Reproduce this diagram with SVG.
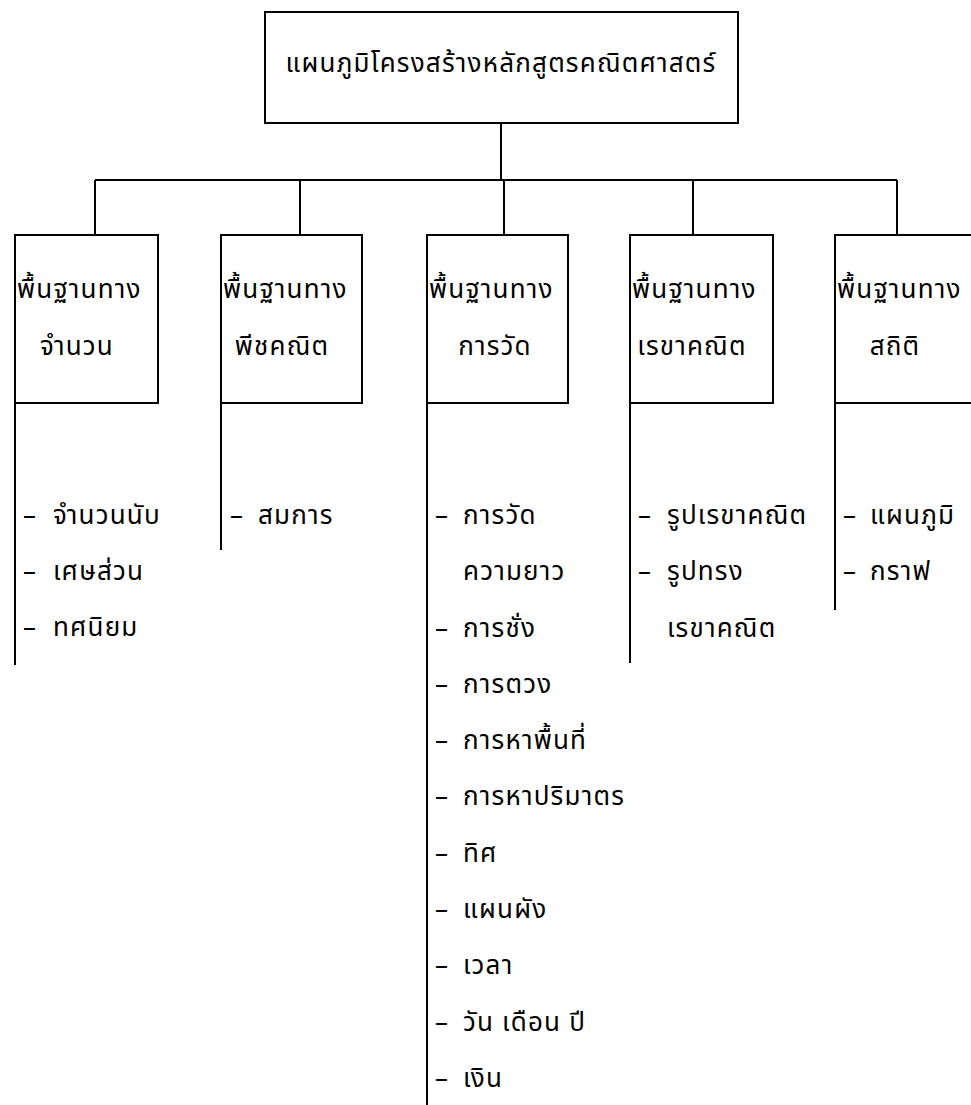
<svg xmlns="http://www.w3.org/2000/svg" width="971" height="1105" viewBox="0 0 971 1105">
<style>
.box{fill:#fff;stroke:#000;stroke-width:2}
.ln{stroke:#000;stroke-width:2;fill:none}
text{font-family:"Noto Sans Thai","Noto Sans","DejaVu Sans",sans-serif;font-size:26px;letter-spacing:1.2px;fill:#000}
.c{text-anchor:middle}
</style>
<rect width="971" height="1105" fill="#fff"/>
<g id="connectors">
<path class="ln" d="M501 123V180M95 180H897M95 180V235M300 180V235M504 180V235M693 180V235M897 180V235"/>
</g>
<g id="title">
<rect class="box" x="265" y="12" width="473" height="111"/>
<text class="c" x="501" y="72">แผนภูมิโครงสร้างหลักสูตรคณิตศาสตร์</text>
</g>
<g id="n1">
<rect class="box" x="15" y="235" width="143" height="168"/>
<path class="ln" d="M15 403V665"/>
<text x="17" y="298">พื้นฐานทาง</text>
<text class="c" x="77" y="355">จำนวน</text>
<text><tspan x="23" y="524">–</tspan><tspan x="53" y="524">จำนวนนับ</tspan></text>
<text><tspan x="23" y="580">–</tspan><tspan x="53" y="580">เศษส่วน</tspan></text>
<text><tspan x="23" y="636">–</tspan><tspan x="53" y="636">ทศนิยม</tspan></text>
</g>
<g id="n2">
<rect class="box" x="221" y="235" width="141" height="168"/>
<path class="ln" d="M221 403V550"/>
<text x="223" y="298">พื้นฐานทาง</text>
<text class="c" x="282" y="355">พีชคณิต</text>
<text><tspan x="230" y="524">–</tspan><tspan x="258" y="524">สมการ</tspan></text>
</g>
<g id="n3">
<rect class="box" x="427" y="235" width="141" height="168"/>
<path class="ln" d="M427 403V1105"/>
<text x="429" y="298">พื้นฐานทาง</text>
<text class="c" x="495" y="355">การวัด</text>
<text><tspan x="435" y="524">–</tspan><tspan x="463" y="524">การวัด</tspan></text>
<text x="463" y="580">ความยาว</text>
<text><tspan x="435" y="637">–</tspan><tspan x="463" y="637">การชั่ง</tspan></text>
<text><tspan x="435" y="693">–</tspan><tspan x="463" y="693">การตวง</tspan></text>
<text><tspan x="435" y="749">–</tspan><tspan x="463" y="749">การหาพื้นที่</tspan></text>
<text><tspan x="435" y="805">–</tspan><tspan x="463" y="805">การหาปริมาตร</tspan></text>
<text><tspan x="435" y="862">–</tspan><tspan x="463" y="862">ทิศ</tspan></text>
<text><tspan x="435" y="918">–</tspan><tspan x="463" y="918">แผนผัง</tspan></text>
<text><tspan x="435" y="974">–</tspan><tspan x="463" y="974">เวลา</tspan></text>
<text><tspan x="435" y="1031">–</tspan><tspan x="463" y="1031">วัน เดือน ปี</tspan></text>
<text><tspan x="435" y="1087">–</tspan><tspan x="463" y="1087">เงิน</tspan></text>
</g>
<g id="n4">
<rect class="box" x="630" y="235" width="143" height="168"/>
<path class="ln" d="M630 403V663"/>
<text x="632" y="298">พื้นฐานทาง</text>
<text class="c" x="692" y="355">เรขาคณิต</text>
<text><tspan x="638" y="524">–</tspan><tspan x="667" y="524">รูปเรขาคณิต</tspan></text>
<text><tspan x="638" y="580">–</tspan><tspan x="667" y="580">รูปทรง</tspan></text>
<text x="667" y="637">เรขาคณิต</text>
</g>
<g id="n5">
<rect class="box" x="835" y="235" width="150" height="168"/>
<path class="ln" d="M835 403V610"/>
<text x="837" y="298">พื้นฐานทาง</text>
<text class="c" x="895" y="355">สถิติ</text>
<text><tspan x="843" y="524">–</tspan><tspan x="870" y="524">แผนภูมิ</tspan></text>
<text><tspan x="843" y="580">–</tspan><tspan x="870" y="580">กราฟ</tspan></text>
</g>
</svg>
